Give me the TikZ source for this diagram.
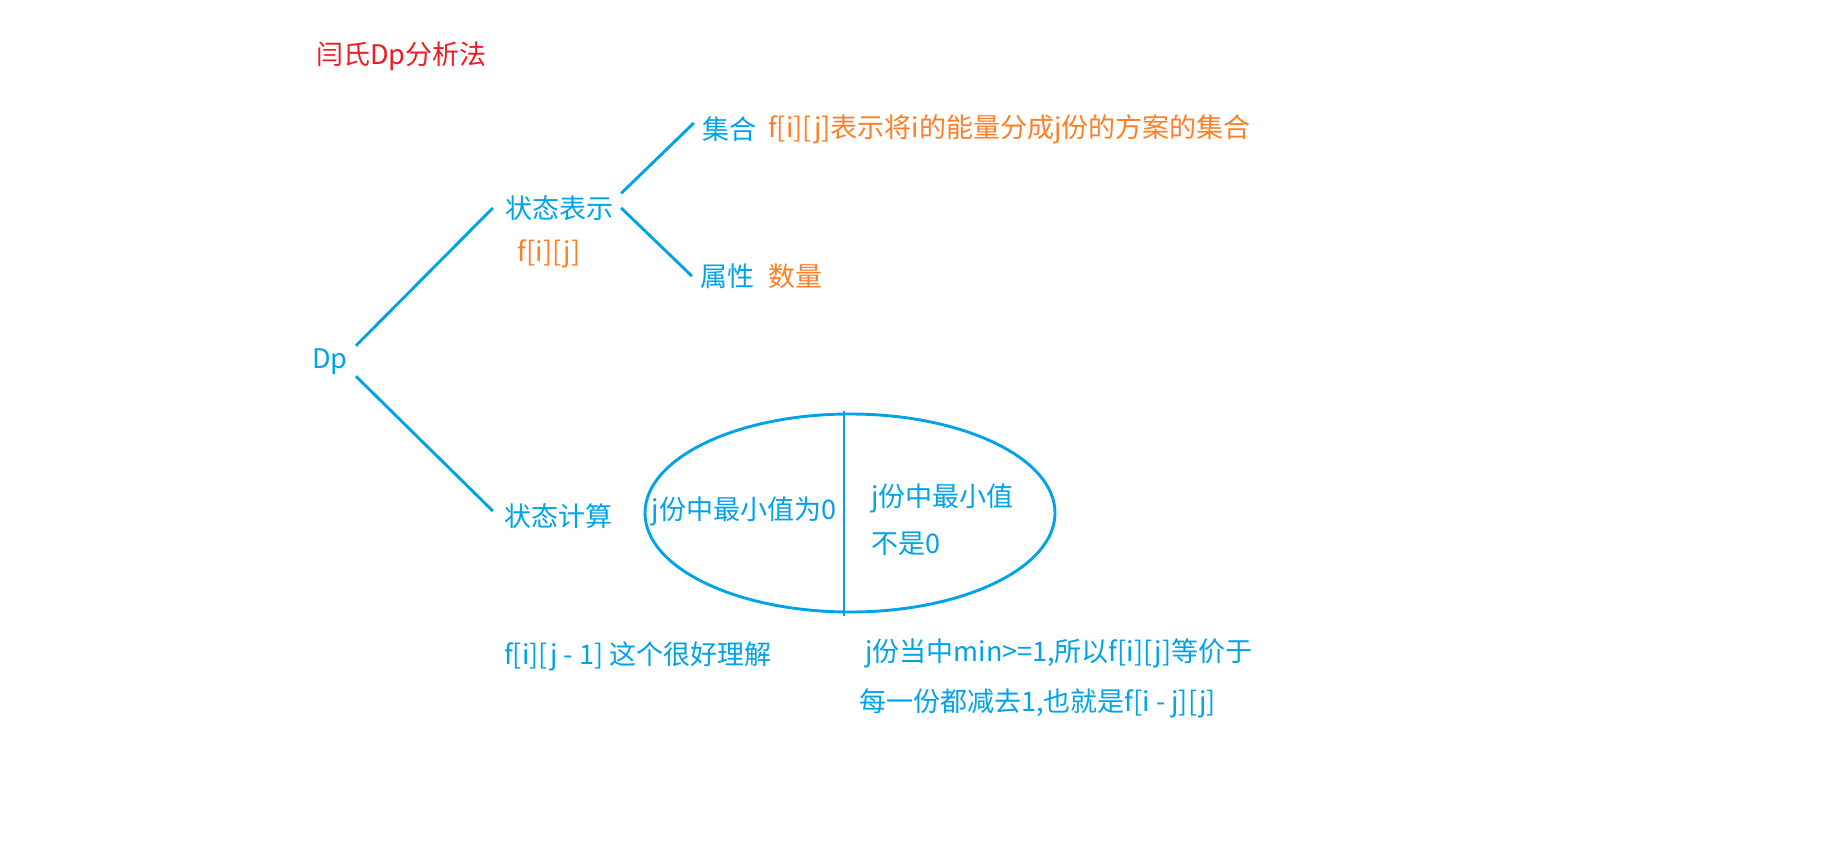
\documentclass[tikz,border=0pt]{standalone}
\usepackage{fontspec}
\usepackage{tikz}
\usetikzlibrary{shapes.geometric,calc}
\newfontfamily\cjk{Noto Sans CJK SC}
\definecolor{paintblue}{RGB}{0,162,232}
\definecolor{paintorange}{RGB}{255,127,39}
\definecolor{paintred}{RGB}{237,28,36}

\begin{document}
\begin{tikzpicture}[x=1pt, y=-1pt,
    txt/.style={font=\cjk\fontsize{27}{32}\selectfont, inner sep=0pt},
    term/.style={txt, text=paintblue, inner sep=8pt},
    note/.style={txt, text=paintorange},
    branch/.style={paintblue, line width=2.9pt}]
    \useasboundingbox (0,0) rectangle (1833,843);

    % Title
    \node[txt, text=paintred, anchor=west] (title) at (316,56) {闫氏Dp分析法};

    % Tree of terms
    \node[term] (dp) at (330,362) {Dp};
    \node[term] (repr) at (559,208) {状态表示};
    \node[note] (reprf) at (549,254) {f[i][j]};
    \node[term] (calc) at (558,516) {状态计算};
    \node[term] (set) at (729,129) {集合};
    \node[note, anchor=west] (setdesc) at (768,129) {f[i][j]表示将i的能量分成j份的方案的集合};
    \node[term] (attr) at (727,276) {属性};
    \node[note, anchor=west] (attrdesc) at (768,276) {数量};

    \draw[branch] ([yshift=-5pt]dp.north east) -- ([xshift=-4pt]repr.west);
    \draw[branch] ([yshift=7pt]dp.south east) -- ([xshift=-3pt,yshift=5pt]calc.west);
    \draw[branch] ([yshift=-6pt]repr.north east) -- ([yshift=6pt]set.west);
    \draw[branch] (repr.east) -- (attr.west);

    % Split of the set
    \node[ellipse, draw=paintblue, line width=2.9pt, minimum width=410pt, minimum height=198pt, inner sep=0pt] (split) at (850,513) {};
    \draw[branch] ([xshift=-6pt,yshift=2pt]split.north) -- ([xshift=-6pt,yshift=-3pt]split.south);
    \node[txt, text=paintblue] (zero) at (744,511) {j份中最小值为0};
    \node[txt, text=paintblue, anchor=west, align=left] (nonzero) at (871,520) {j份中最小值\\[15pt]不是0};

    % Notes below
    \node[txt, text=paintblue, anchor=west] (leftnote) at (504,656) {f[i][j - 1] 这个很好理解};
    \node[txt, text=paintblue, anchor=west] (rightnote) at (865,653) {j份当中min>=1,所以f[i][j]等价于};
    \node[txt, text=paintblue, anchor=west] (rightnote2) at (859,703) {每一份都减去1,也就是f[i - j][j]};
\end{tikzpicture}
\end{document}
